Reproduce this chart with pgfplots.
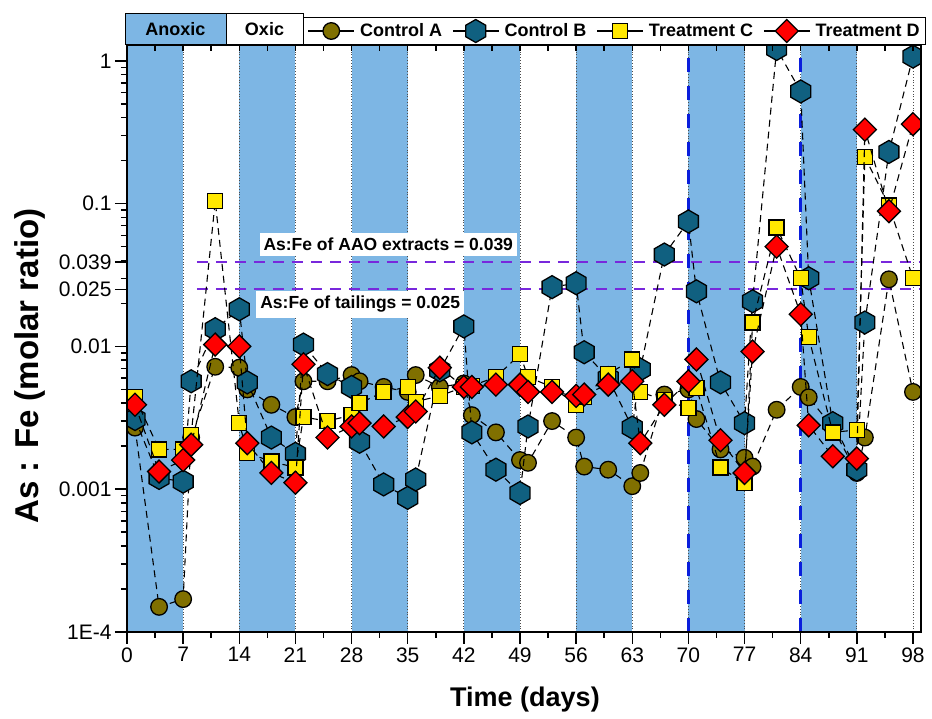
\documentclass[border=0pt]{standalone}
\usepackage{fontspec}
\setmainfont{Liberation Sans}
\usepackage{pgfplots}
\pgfplotsset{compat=1.18}
\definecolor{anox}{RGB}{125,182,228}
\definecolor{ctrlA}{RGB}{128,112,0}
\definecolor{ctrlB}{RGB}{16,96,128}
\definecolor{trtC}{RGB}{255,232,0}
\definecolor{trtD}{RGB}{255,0,0}
\definecolor{purp}{RGB}{120,40,220}
\definecolor{vblue}{RGB}{10,30,220}
\pgfdeclareplotmark{hexa}{%
  \pgfpathmoveto{\pgfqpointpolar{90}{\pgfplotmarksize}}%
  \pgfpathlineto{\pgfqpointpolar{150}{\pgfplotmarksize}}%
  \pgfpathlineto{\pgfqpointpolar{210}{\pgfplotmarksize}}%
  \pgfpathlineto{\pgfqpointpolar{270}{\pgfplotmarksize}}%
  \pgfpathlineto{\pgfqpointpolar{330}{\pgfplotmarksize}}%
  \pgfpathlineto{\pgfqpointpolar{30}{\pgfplotmarksize}}%
  \pgfpathclose\pgfusepathqfillstroke}
\pgfdeclareplotmark{sqdiam}{%
  \pgfpathmoveto{\pgfqpoint{0pt}{\pgfplotmarksize}}%
  \pgfpathlineto{\pgfqpoint{\pgfplotmarksize}{0pt}}%
  \pgfpathlineto{\pgfqpoint{0pt}{-\pgfplotmarksize}}%
  \pgfpathlineto{\pgfqpoint{-\pgfplotmarksize}{0pt}}%
  \pgfpathclose\pgfusepathqfillstroke}
\pgfplotsset{
  ser/.style={black, line width=1.1pt, dash pattern=on 7pt off 5pt},
}
\begin{document}
\begin{tikzpicture}
\path[use as bounding box] (-127pt,-86pt) rectangle (805pt,632pt);
\begin{axis}[
  name=ax, at={(0pt,0pt)}, anchor=south west,
  scale only axis, width=794pt, height=587pt,
  xmin=0, xmax=99, ymode=log, ymin=1e-4, ymax=1.29,
  axis on top, clip marker paths=true,
  axis line style={line width=1.5pt},
  xtick={0,7,...,98}, minor xtick={3.5,10.5,...,94.5},
  xtick pos=bottom, ytick pos=left, tick align=outside,
  major tick length=12pt, minor tick length=6pt,
  every tick/.style={black, line width=1.5pt},
  ytick={1e-4,1e-3,1e-2,1e-1,1}, yticklabels={1E-4,0.001,0.01,0.1,1},
  extra y ticks={0.025,0.039}, extra y tick labels={0.025,0.039},
  minor ytick={2e-4,3e-4,4e-4,5e-4,6e-4,7e-4,8e-4,9e-4,2e-3,3e-3,4e-3,5e-3,6e-3,7e-3,8e-3,9e-3,2e-2,3e-2,4e-2,5e-2,6e-2,7e-2,8e-2,9e-2,2e-1,3e-1,4e-1,5e-1,6e-1,7e-1,8e-1,9e-1},
  /pgf/number format/assume math mode=true,
  tick label style={font=\fontsize{21}{24}\selectfont},
  legend columns=4,
  legend style={at={(0.2217,1)}, anchor=south west, draw=black, line width=1pt, fill=white,
    font=\bfseries\fontsize{18}{21}\selectfont, inner xsep=4pt, inner ysep=2pt,
    /tikz/every odd column/.append style={column sep=3pt},
    /tikz/every even column/.append style={column sep=8pt}},
  legend cell align=left,
  legend image code/.code={%
    \draw[black, solid, line width=1.5pt] (0pt,0pt) -- (46pt,0pt);
    \draw[#1, solid] plot coordinates {(23pt,0pt)};},
]
% anoxic bands
\fill[anox] (axis cs:0,1e-4) rectangle (axis cs:7,1.29);
\fill[anox] (axis cs:14,1e-4) rectangle (axis cs:21,1.29);
\fill[anox] (axis cs:28,1e-4) rectangle (axis cs:35,1.29);
\fill[anox] (axis cs:42,1e-4) rectangle (axis cs:49,1.29);
\fill[anox] (axis cs:56,1e-4) rectangle (axis cs:63,1.29);
\fill[anox] (axis cs:70,1e-4) rectangle (axis cs:77,1.29);
\fill[anox] (axis cs:84,1e-4) rectangle (axis cs:91,1.29);
\pgfplotsinvokeforeach{7,14,...,98}{
  \draw[black!70, line width=0.8pt, dotted] (axis cs:#1,1e-4) -- (axis cs:#1,1.29);
}
\draw[vblue, line width=2.5pt, dash pattern=on 14pt off 14pt] (axis cs:70,1e-4) -- (axis cs:70,1.29);
\draw[vblue, line width=2.5pt, dash pattern=on 14pt off 14pt] (axis cs:84,1e-4) -- (axis cs:84,1.29);
\node[fill=white, anchor=west, inner xsep=4pt, inner ysep=5pt, font=\bfseries\fontsize{17.5}{20}\selectfont] at (axis cs:16.5,0.052) {As:Fe of AAO extracts = 0.039};
\node[fill=white, anchor=west, inner xsep=4pt, inner ysep=5pt, font=\bfseries\fontsize{17.5}{20}\selectfont] at (axis cs:16.1,0.0197) {As:Fe of tailings = 0.025};
\draw[purp, line width=1.8pt, dash pattern=on 11pt off 8pt] (axis cs:8.7,0.039) -- (axis cs:99,0.039);
\draw[purp, line width=1.8pt, dash pattern=on 11pt off 8pt] (axis cs:8.7,0.0251) -- (axis cs:99,0.0251);

\addplot[ser, mark=*, mark size=8.3pt, mark options={solid, fill=ctrlA, draw=black, line width=1.3pt}] coordinates {
(1,0.0027) (4,1.5e-4) (7,1.7e-4) (8,0.0023) (11,0.0072) (14,0.0071) (15,0.0050) (18,0.0039) (21,0.0032) (22,0.0057) (25,0.0057) (28,0.0063) (29,0.0057) (32,0.0052) (35,0.0048) (36,0.0063) (39,0.0052) (42,0.0055) (43,0.0033) (46,0.0025) (49,0.0016) (50,0.00153) (53,0.0030) (56,0.0023) (57,0.00144) (60,0.00137) (63,0.00105) (64,0.0013) (67,0.0046) (70,0.0050) (71,0.0031) (74,0.0019) (77,0.00166) (78,0.00144) (81,0.0036) (84,0.0052) (85,0.0044) (88,0.0027) (91,0.0013) (92,0.0023) (95,0.0295) (98,0.0048)
};
\addlegendentry{Control A}
\addplot[ser, mark=hexa, mark size=11.5pt, mark options={solid, fill=ctrlB, draw=black, line width=1.3pt}] coordinates {
(1,0.0031) (4,0.0012) (7,0.00113) (8,0.0057) (11,0.0132) (14,0.0182) (15,0.0056) (18,0.0023) (21,0.00177) (22,0.0103) (25,0.0064) (28,0.0052) (29,0.00215) (32,0.00108) (35,0.00087) (36,0.00117) (39,0.0068) (42,0.0138) (43,0.0025) (46,0.00137) (49,0.00094) (50,0.00275) (53,0.026) (56,0.0277) (57,0.0091) (60,0.0060) (63,0.0027) (64,0.0069) (67,0.044) (70,0.075) (71,0.0243) (74,0.0056) (77,0.0029) (78,0.0207) (81,1.21) (84,0.61) (85,0.030) (88,0.0029) (91,0.00137) (92,0.0147) (95,0.23) (98,1.07)
};
\addlegendentry{Control B}
\addplot[ser, mark=square*, mark size=7.5pt, mark options={solid, fill=trtC, draw=black, line width=1.3pt}] coordinates {
(1,0.0044) (4,0.0019) (7,0.0019) (8,0.0024) (11,0.104) (14,0.0029) (15,0.0018) (18,0.00156) (21,0.00142) (22,0.0032) (25,0.0030) (28,0.0033) (29,0.0040) (32,0.0048) (35,0.0052) (36,0.0041) (39,0.0045) (42,0.0052) (43,0.0053) (46,0.0061) (49,0.0088) (50,0.0061) (53,0.0052) (56,0.0039) (57,0.0044) (60,0.0064) (63,0.0081) (64,0.0048) (67,0.0042) (70,0.0037) (71,0.0051) (74,0.00142) (77,0.0011) (78,0.0147) (81,0.068) (84,0.030) (85,0.0116) (88,0.0025) (91,0.0026) (92,0.212) (95,0.097) (98,0.030)
};
\addlegendentry{Treatment C}
\addplot[ser, mark=sqdiam, mark size=11.5pt, mark options={solid, fill=trtD, draw=black, line width=1.3pt}] coordinates {
(1,0.0039) (4,0.00133) (7,0.0016) (8,0.00205) (11,0.0103) (14,0.0100) (15,0.0021) (18,0.0013) (21,0.00111) (22,0.0075) (25,0.0023) (28,0.00275) (29,0.0029) (32,0.00275) (35,0.0032) (36,0.0035) (39,0.0071) (42,0.0052) (43,0.0052) (46,0.0054) (49,0.0054) (50,0.0048) (53,0.0048) (56,0.0045) (57,0.0046) (60,0.0054) (63,0.0057) (64,0.0021) (67,0.0039) (70,0.0057) (71,0.0081) (74,0.0022) (77,0.0013) (78,0.0092) (81,0.050) (84,0.0168) (85,0.0028) (88,0.0017) (91,0.00164) (92,0.33) (95,0.0885) (98,0.36)
};
\addlegendentry{Treatment D}
\end{axis}
\begin{axis}[
  at={(0pt,0pt)}, anchor=south west,
  scale only axis, width=794pt, height=587pt,
  xmin=0, xmax=99, ymin=0, ymax=1,
  hide y axis, axis x line*=top,
  axis line style={line width=1.5pt, -},
  xtick={0,7,...,98}, minor xtick={3.5,10.5,...,94.5}, xticklabels={},
  tick align=inside, major tick length=6pt, minor tick length=6pt,
  every tick/.style={black, line width=1.5pt},
]
\addplot[draw=none] coordinates {(0,0)};
\end{axis}
\draw[line width=1pt, fill=anox] (-2pt,587pt) rectangle (99pt,618pt);
\node[font=\bfseries\fontsize{18}{21}\selectfont] at (48.5pt,602.5pt) {Anoxic};
\draw[line width=1pt, fill=white] (99pt,587pt) rectangle (176pt,618pt);
\node[font=\bfseries\fontsize{18}{21}\selectfont] at (137.5pt,602.5pt) {Oxic};
\node[font=\bfseries\fontsize{27}{32}\selectfont] at (398pt,-68pt) {Time (days)};
\node[rotate=90, font=\bfseries\fontsize{33}{38}\selectfont] at (-97pt,266pt) {As : Fe (molar ratio)};
\end{tikzpicture}
\end{document}
